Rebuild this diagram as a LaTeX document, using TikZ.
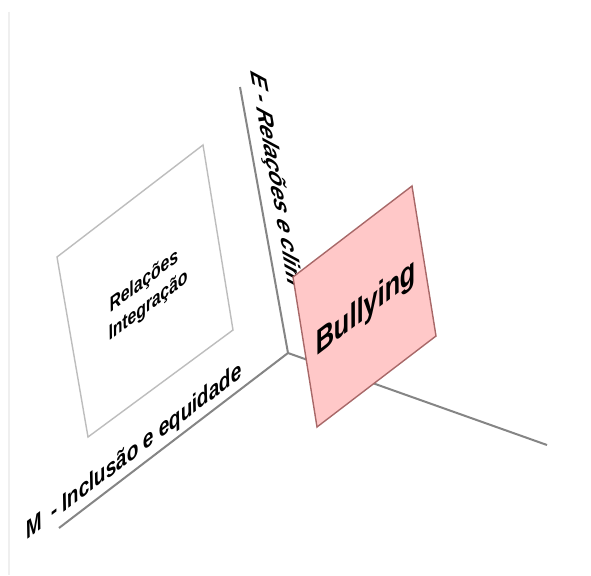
\documentclass[tikz,border=0pt]{standalone}
\usepackage{fontspec}
\setmainfont{Liberation Sans}
\definecolor{axisgrey}{HTML}{858585}
\definecolor{boxgrey}{HTML}{BDBDBD}
\definecolor{pinkfill}{HTML}{FFC8C8}
\definecolor{pinkedge}{HTML}{A86868}
\definecolor{framegrey}{HTML}{EFEFEF}
\begin{document}
\begin{tikzpicture}[x=1pt,y=-1pt,
  axis/.style={draw=axisgrey, line width=2pt},
  lbl/.style={inner sep=0pt, text=black},
  plane/.style={line width=1.4pt, line join=miter}]
\useasboundingbox (0,0) rectangle (591,575);
\fill[white] (0,0) rectangle (591,575);
\coordinate (F1) at (9,12);
\coordinate (F2) at (9,575);
\draw[draw=framegrey, line width=2pt] (F1) -- (F2);
% axes
\coordinate (O) at (288,353);
\coordinate (Etop) at (240,87);
\coordinate (Mend) at (59,528);
\coordinate (Rend) at (547,445);
\draw[axis] (O) -- (Etop);
\draw[axis] (O) -- (Mend);
\draw[axis] (O) -- (Rend);
% white plane
\coordinate (W1) at (57,257);
\coordinate (W2) at (203,145);
\coordinate (W3) at (233,330);
\coordinate (W4) at (88,437);
\draw[plane, draw=boxgrey, fill=white] (W1) -- (W2) -- (W3) -- (W4) -- cycle;
\node[lbl, align=center, font=\fontsize{19.5}{25}\selectfont\bfseries\itshape,
      cm={0.799,0.602,-0.168,0.986,(0,0)}] (rel) at (146,294) {Relações\\Integração};
% axis labels
\node[lbl, anchor=base west, font=\fontsize{23.5}{27}\selectfont\bfseries\itshape,
      cm={0.797,0.604,-0.178,0.984,(0,0)}] (mlabel) at (27,540) {M\hspace{0.5em}- Inclusão e equidade};
\node[lbl, anchor=base west, font=\fontsize{24}{28}\selectfont\bfseries\itshape,
      cm={0.178,-0.984,0.942,-0.335,(0,0)}] (elabel) at (250,70) {E - Relações e clim};
% pink plane
\coordinate (P1) at (293,277);
\coordinate (P2) at (412,186);
\coordinate (P3) at (436,336);
\coordinate (P4) at (317,427);
\draw[plane, draw=pinkedge, fill=pinkfill] (P1) -- (P2) -- (P3) -- (P4) -- cycle;
\node[lbl, font=\fontsize{32}{36}\selectfont\bfseries\itshape,
      cm={0.794,0.607,-0.158,0.987,(0,0)}] (bully) at (366,309) {Bullying};
\end{tikzpicture}
\end{document}
